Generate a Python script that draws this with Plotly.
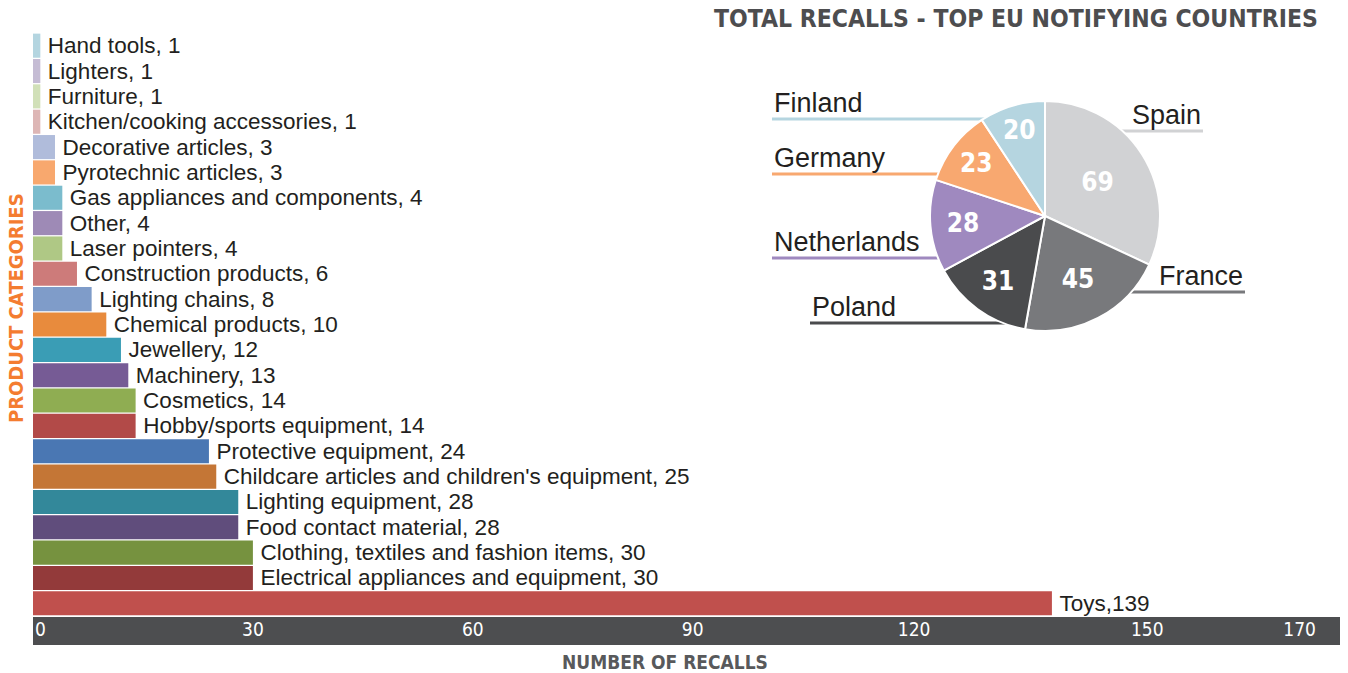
import plotly.graph_objects as go

# ---------------- data ----------------
categories = [
    "Hand tools", "Lighters", "Furniture", "Kitchen/cooking accessories",
    "Decorative articles", "Pyrotechnic articles", "Gas appliances and components",
    "Other", "Laser pointers", "Construction products", "Lighting chains",
    "Chemical products", "Jewellery", "Machinery", "Cosmetics",
    "Hobby/sports equipment", "Protective equipment",
    "Childcare articles and children's equipment", "Lighting equipment",
    "Food contact material", "Clothing, textiles and fashion items",
    "Electrical appliances and equipment", "Toys",
]
recalls = [1, 1, 1, 1, 3, 3, 4, 4, 4, 6, 8, 10, 12, 13, 14, 14, 24, 25, 28, 28, 30, 30, 139]
bar_colors = [
    "#b4d5e0", "#c5bcd4", "#d1e0b8", "#ddb6b5", "#b0bcdb", "#f8a86e",
    "#7bbccd", "#9e8ab6", "#afc885", "#cd7b7a", "#7f9cc9", "#e88b3d",
    "#3a9db5", "#765b95", "#8fad52", "#b24a48", "#4a77b3", "#c47636",
    "#33889a", "#604d7c", "#76923f", "#933a3a", "#c0504d",
]
x_tick_labels = ["0", "30", "60", "90", "120", "150", "170"]

countries = ["Spain", "France", "Poland", "Netherlands", "Germany", "Finland"]
country_recalls = [69, 45, 31, 28, 23, 20]
pie_colors = ["#d1d2d4", "#78797c", "#4a4b4d", "#9f89bf", "#f8a870", "#b5d5e0"]

# ---------------- layout geometry (pixels) ----------------
W, H = 1348, 673
ML, MR, MT, MB = 33, 8, 33, 57
PW, PH = W - ML - MR, H - MT - MB
PLOT_BOTTOM = MT + PH
X_MAX = 178.3
# where the reference prints its tick labels along the axis (axis units)
x_tick_pos = [1.0, 30, 60, 90, 120.2, 152, 172.8]

COND = "DejaVu Sans Condensed, DejaVu Sans"


def px(x):
    return (x - ML) / PW


def py(y):
    return (PLOT_BOTTOM - y) / PH


PIE_CX, PIE_CY, PIE_R = 1045, 216, 115

labels_text = [
    "\u2009" + f"{c},{'' if c == 'Toys' else ' '}{v}" for c, v in zip(categories, recalls)
]

fig = go.Figure()

fig.add_trace(go.Bar(
    y=categories, x=recalls, orientation="h",
    marker=dict(color=bar_colors, line=dict(width=0)),
    text=labels_text, textposition="outside", cliponaxis=False,
    constraintext="none",
    textfont=dict(family="Liberation Sans", size=22.5, color="#231f20"),
    hoverinfo="x+y", showlegend=False,
))

fig.add_trace(go.Pie(
    labels=countries, values=country_recalls, sort=False,
    direction="clockwise", rotation=0,
    marker=dict(colors=pie_colors, line=dict(color="white", width=2)),
    textinfo="value", textposition="inside", insidetextorientation="horizontal",
    textfont=dict(family=COND, size=26, color="white", weight="bold"),
    domain=dict(x=[px(PIE_CX - PIE_R), px(PIE_CX + PIE_R)],
                y=[py(PIE_CY + PIE_R), py(PIE_CY - PIE_R)]),
    showlegend=False,
))

shapes = [
    # dark axis band
    dict(type="rect", xref="paper", yref="paper", x0=0, x1=1,
         y0=py(645), y1=py(617), fillcolor="#4d4e50", line=dict(width=0), layer="below"),
]

annotations = []
# pie label placements: (name, text x, line y, side)
pie_label_pos = [
    ("Finland", 772, 119, "left"),
    ("Germany", 772, 174, "left"),
    ("Netherlands", 772, 258, "left"),
    ("Poland", 810, 323, "left"),
    ("Spain", 1203, 131, "right"),
    ("France", 1245, 292, "right"),
]
for name, lx, ly, side in pie_label_pos:
    col = pie_colors[countries.index(name)]
    shapes.append(dict(type="line", xref="paper", yref="paper",
                       x0=px(lx), x1=px(PIE_CX), y0=py(ly), y1=py(ly),
                       line=dict(color=col, width=3), layer="below"))
    annotations.append(dict(
        text=name, xref="paper", yref="paper", x=px(lx), y=py(ly + 1),
        xanchor="left" if side == "left" else "right", yanchor="bottom",
        showarrow=False,
        font=dict(family="Liberation Sans", size=27, color="#231f20"),
    ))

annotations += [
    dict(text="TOTAL RECALLS - TOP EU NOTIFYING COUNTRIES", xref="paper", yref="paper",
         x=px(1320), y=py(18), xanchor="right", yanchor="middle", showarrow=False,
         font=dict(family=COND, size=24.5, color="#4d4d4f", weight="bold")),
    dict(text="NUMBER OF RECALLS", xref="paper", yref="paper",
         x=px(665), y=py(662), xanchor="center", yanchor="middle", showarrow=False,
         font=dict(family=COND, size=19, color="#58595b", weight="bold")),
    dict(text="PRODUCT CATEGORIES", xref="paper", yref="paper", textangle=-90,
         x=px(16), y=py(308), xanchor="center", yanchor="middle", showarrow=False,
         font=dict(family=COND, size=20, color="#f47c30", weight="bold")),
]

fig.update_layout(
    width=W, height=H,
    margin=dict(l=ML, r=MR, t=MT, b=MB),
    paper_bgcolor="white", plot_bgcolor="rgba(0,0,0,0)",
    bargap=0.05,
    xaxis=dict(range=[0, X_MAX], tickvals=x_tick_pos, ticktext=x_tick_labels,
               tickfont=dict(family=COND, size=19, color="white"),
               showgrid=False, zeroline=False, showline=False, ticks="", fixedrange=True),
    yaxis=dict(type="category", categoryorder="array", categoryarray=categories,
               autorange="reversed", showticklabels=False, showgrid=False,
               zeroline=False, showline=False, ticks=""),
    shapes=shapes, annotations=annotations,
)

fig.write_html("out.html")
